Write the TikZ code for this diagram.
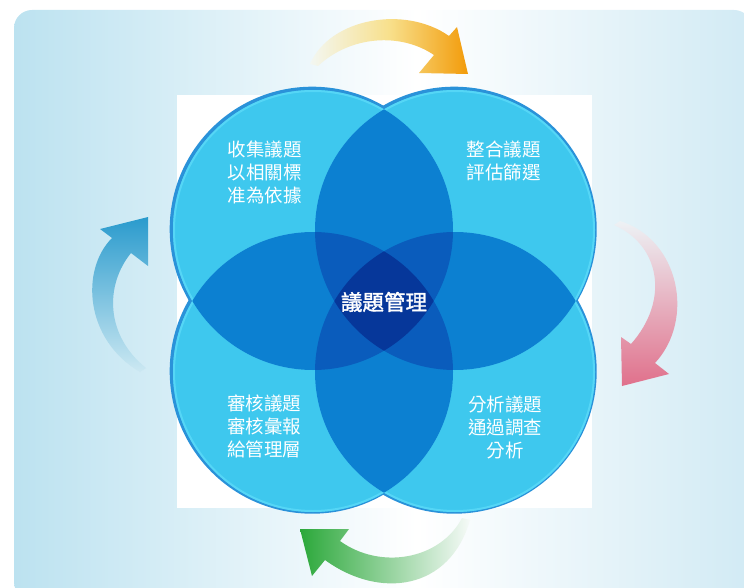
\documentclass[tikz,border=0pt]{standalone}
\usepackage{fontspec}
\usepackage{xcolor}
\usepackage{tikz}
\newfontfamily\cjk{Noto Sans CJK TC}
\newfontfamily\cjkbold[FakeBold=1.6]{Noto Sans CJK TC}
\definecolor{bgleft}{HTML}{BCE2F0}
\definecolor{bgright}{HTML}{C8E6F2}
\definecolor{rimblue}{HTML}{2A92D9}
\definecolor{discblue}{HTML}{3EC8EE}
\definecolor{ringcyan}{HTML}{55D6F6}
\definecolor{laptwo}{HTML}{0C80D1}
\definecolor{lapthree}{HTML}{0A5CBC}
\definecolor{lapfour}{HTML}{06379A}
\definecolor{arroworange}{HTML}{F29B0A}
\definecolor{arrowyellow}{HTML}{F3F7F2}
\definecolor{arrowmid}{HTML}{F8E08C}
\definecolor{arrowpink}{HTML}{E0708B}
\definecolor{arrowpinkfade}{HTML}{EDF2F5}
\definecolor{arrowgreen}{HTML}{2BA83A}
\definecolor{arrowgreenfade}{HTML}{F6FAF8}
\definecolor{arrowblue}{HTML}{2A9BCD}
\definecolor{arrowbluefade}{HTML}{CCE8F2}

\begin{document}
\begin{tikzpicture}[x=1pt, y=-1pt,
  qtext/.style={text=white, align=center, font=\cjk\fontsize{18.5}{23}\selectfont},
  ctext/.style={text=white, align=center, font=\cjkbold\fontsize{21.5}{26}\selectfont}]
  \useasboundingbox (0,0) rectangle (744,588);
  \clip (0,0) rectangle (744,588);
  % background panel
  \begin{scope}
    \clip[rounded corners=18pt] (14,10) rectangle (752,600);
    \shade[left color=bgleft, right color=bgright, middle color=white] (14,10) rectangle (820,600);
  \end{scope}
  \fill[white] (177,95) rectangle (592,508);
  % circle centres
  \coordinate (tl) at (313,230);
  \coordinate (tr) at (455,230);
  \coordinate (bl) at (313,372);
  \coordinate (br) at (455,372);
  % discs
  \foreach \c in {tl,tr,bl,br}{\fill[rimblue] ([xshift=-0.8pt,yshift=0.8pt]\c) circle (142.5pt);}
  \foreach \c in {tl,tr,bl,br}{\fill[discblue] (\c) circle (140pt);}
  \foreach \c in {tl,tr,bl,br}{\draw[ringcyan, line width=2pt] (\c) circle (139pt);}
  % overlaps
  \foreach \a/\b in {tl/tr,tl/bl,tr/br,bl/br,tl/br,tr/bl}{
    \begin{scope}
      \clip (\a) circle (140pt);
      \fill[laptwo] (\b) circle (140pt);
    \end{scope}}
  \foreach \a/\b/\c in {tl/tr/bl,tl/tr/br,tl/bl/br,tr/bl/br}{
    \begin{scope}
      \clip (\a) circle (140pt);
      \clip (\b) circle (140pt);
      \fill[lapthree] (\c) circle (140pt);
    \end{scope}}
  \begin{scope}
    \clip (tl) circle (140pt);
    \clip (tr) circle (140pt);
    \clip (bl) circle (140pt);
    \fill[lapfour] (br) circle (140pt);
  \end{scope}
  % cycle arrows
  \shade[left color=arrowyellow, right color=arroworange, middle color=arrowmid]
    (310,64) .. controls (330,18) and (405,5) .. (449,36) -- (457,27) -- (468,74) -- (419,73)
    -- (434,55) .. controls (400,32) and (350,36) .. (318,66) -- cycle;
  \shade[top color=arrowpinkfade, bottom color=arrowpink]
    (620,221) .. controls (680,240) and (695,320) .. (655,363) -- (669,374) -- (622,386) -- (621,337)
    -- (631,344) .. controls (670,300) and (660,245) .. (614,225) -- cycle;
  \shade[left color=arrowgreen, right color=arrowgreenfade]
    (470,520) .. controls (450,590) and (380,600) .. (325,560) -- (312,576) -- (300,529) -- (349,529)
    -- (340,541) .. controls (380,570) and (440,560) .. (462,518) -- cycle;
  \shade[top color=arrowblue, bottom color=arrowbluefade]
    (140,372) .. controls (85,340) and (80,270) .. (112,238) -- (100,229) -- (148,217) -- (148,266)
    -- (131,253) .. controls (105,285) and (105,335) .. (146,368) -- cycle;
  % labels
  \node[qtext] (collect) at (264.5,172.5) {收集議題\\以相關標\\准為依據};
  \node[qtext] (merge) at (503.5,161) {整合議題\\評估篩選};
  \node[qtext] (review) at (264,426.5) {審核議題\\審核彙報\\給管理層};
  \node[qtext] (analyse) at (505,427) {分析議題\\通過調查\\分析};
  \node[ctext] (core) at (384,302) {議題管理};
\end{tikzpicture}
\end{document}
